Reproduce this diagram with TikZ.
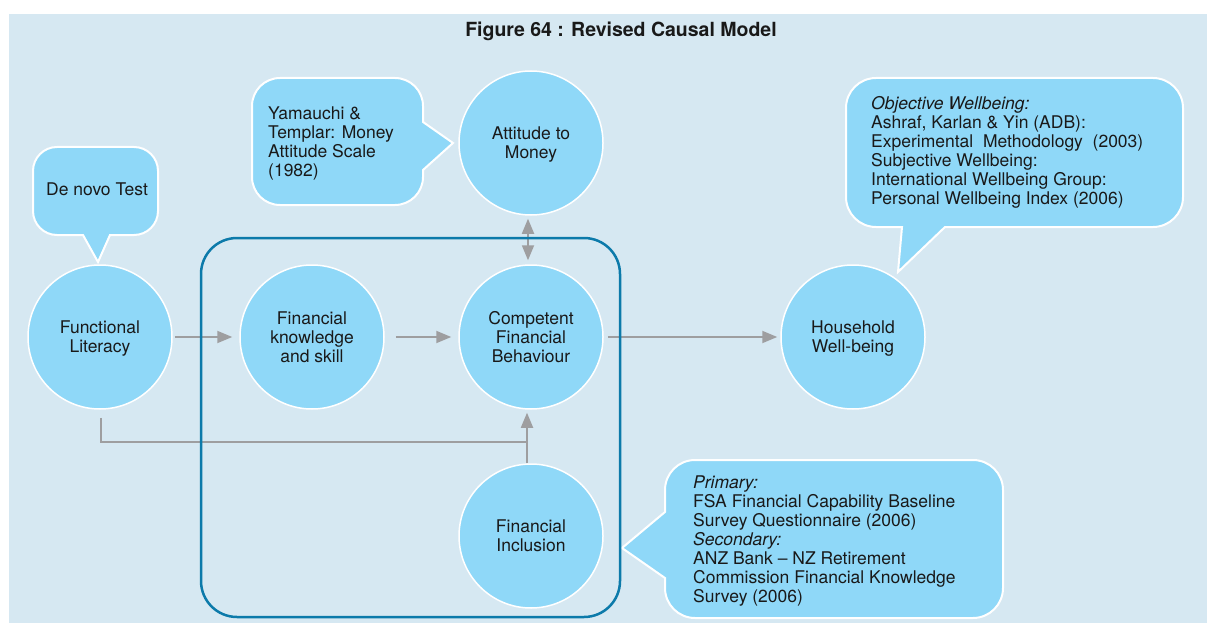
\documentclass[tikz,border=0pt]{standalone}
\usepackage{fontspec}
\setmainfont{TeX Gyre Heros}
\usetikzlibrary{arrows.meta}
\definecolor{panel}{RGB}{214,232,242}
\definecolor{bub}{RGB}{143,216,248}
\definecolor{grpblue}{RGB}{12,122,170}
\definecolor{arrgray}{RGB}{158,158,160}
\definecolor{ink}{RGB}{25,25,25}
\begin{document}
\begin{tikzpicture}[x=1pt,y=-1pt,
  circ/.style={circle,fill=bub,draw=white,line width=1.5pt,minimum size=144pt,inner sep=0pt,align=center,text depth=0pt,font=\fontsize{17.5}{19}\selectfont,text=ink},
  bubble/.style={fill=bub,draw=white,line width=2pt},
  btext/.style={inner sep=0pt,align=left,font=\fontsize{17.5}{19}\selectfont,text=ink},
  conn/.style={draw=arrgray,line width=1.8pt},
  arr/.style={conn,-{Triangle[length=15pt,width=12pt]}},
  darr/.style={conn,{Triangle[length=15pt,width=12pt]}-{Triangle[length=15pt,width=12pt]}},
  grpbox/.style={draw=grpblue,line width=2.5pt,rounded corners=36pt,inner sep=0pt}
]
\useasboundingbox (0,0) rectangle (1207,623);
\fill[white] (0,0) rectangle (1207,623);
\fill[panel] (9,14) rectangle (1207,623);

\node[font=\bfseries\fontsize{19.5}{22}\selectfont,text=ink] (title) at (621,31) {Figure 64 : Revised Causal Model};

% callout bubbles
\path[bubble] (57,147) -- (134,147) arc[start angle=270,end angle=360,radius=24] -- (158,211) arc[start angle=0,end angle=90,radius=24] -- (110,235) -- (98,262) -- (83,235) -- (57,235) arc[start angle=90,end angle=180,radius=24] -- (33,171) arc[start angle=180,end angle=270,radius=24] -- cycle;
\path[bubble] (280,78) -- (395,78) arc[start angle=270,end angle=360,radius=28] -- (423,122) -- (453,143) -- (423,170) -- (423,177) arc[start angle=0,end angle=90,radius=28] -- (280,205) arc[start angle=90,end angle=180,radius=28] -- (252,106) arc[start angle=180,end angle=270,radius=28] -- cycle;
\path[bubble] (876,78) -- (1153,78) arc[start angle=270,end angle=360,radius=30] -- (1183,197) arc[start angle=0,end angle=90,radius=30] -- (945,227) -- (898,272) -- (902,227) -- (876,227) arc[start angle=90,end angle=180,radius=30] -- (846,108) arc[start angle=180,end angle=270,radius=30] -- cycle;
\path[bubble] (695,460) -- (973,460) arc[start angle=270,end angle=360,radius=30] -- (1003,588) arc[start angle=0,end angle=90,radius=30] -- (695,618) arc[start angle=90,end angle=180,radius=30] -- (665,578) -- (622,548) -- (665,512) -- (665,490) arc[start angle=180,end angle=270,radius=30] -- cycle;

\node[btext] (dn) at (97,189) {De novo Test};
\node[btext,anchor=west] (ym) at (268,143) {Yamauchi \&\\Templar: Money\\Attitude Scale\\(1982)};
\node[btext,anchor=west] (ow) at (871,152) {\textit{Objective Wellbeing:}\\Ashraf, Karlan \& Yin (ADB):\\Experimental~ Methodology~ (2003)\\Subjective Wellbeing:\\International Wellbeing Group:\\Personal Wellbeing Index (2006)};
\node[btext,anchor=west] (pr) at (693,541) {\textit{Primary:}\\FSA Financial Capability Baseline\\Survey Questionnaire (2006)\\\textit{Secondary:}\\ANZ Bank -- NZ Retirement\\Commission Financial Knowledge\\Survey (2006)};

% circles
\node[circ] (fl) at (100,337) {Functional\\Literacy};
\node[circ] (fk) at (312,337) {Financial\\knowledge\\and skill};
\node[circ] (cfb) at (531,337) {Competent\\Financial\\Behaviour};
\node[circ] (hw) at (853,337) {Household\\Well-being};
\node[circ] (atm) at (531,143) {Attitude to\\Money};
\node[circ] (fi) at (531,536) {Financial\\Inclusion};

% connectors
\coordinate (jn) at (527,442);
\draw[arr,shorten <=2pt,shorten >=7pt] (fl) -- (fk);
\draw[arr,shorten <=11pt,shorten >=7pt] (fk) -- (cfb);
\draw[arr,shorten <=4pt,shorten >=3pt] (cfb) -- (hw);
\draw[darr,shorten <=3pt,shorten >=4pt] ([xshift=-3pt]atm.south) -- ([xshift=-3pt]cfb.north);
\draw[arr,shorten >=3pt] ([xshift=-4pt]fi.north) -- ([xshift=-4pt]cfb.south);
\draw[conn,shorten <=8pt] ([xshift=1pt]fl.south) |- (jn);

% group box
\node[grpbox,minimum width=419pt,minimum height=379pt] (grp) at (410.5,427.5) {};
\end{tikzpicture}
\end{document}
